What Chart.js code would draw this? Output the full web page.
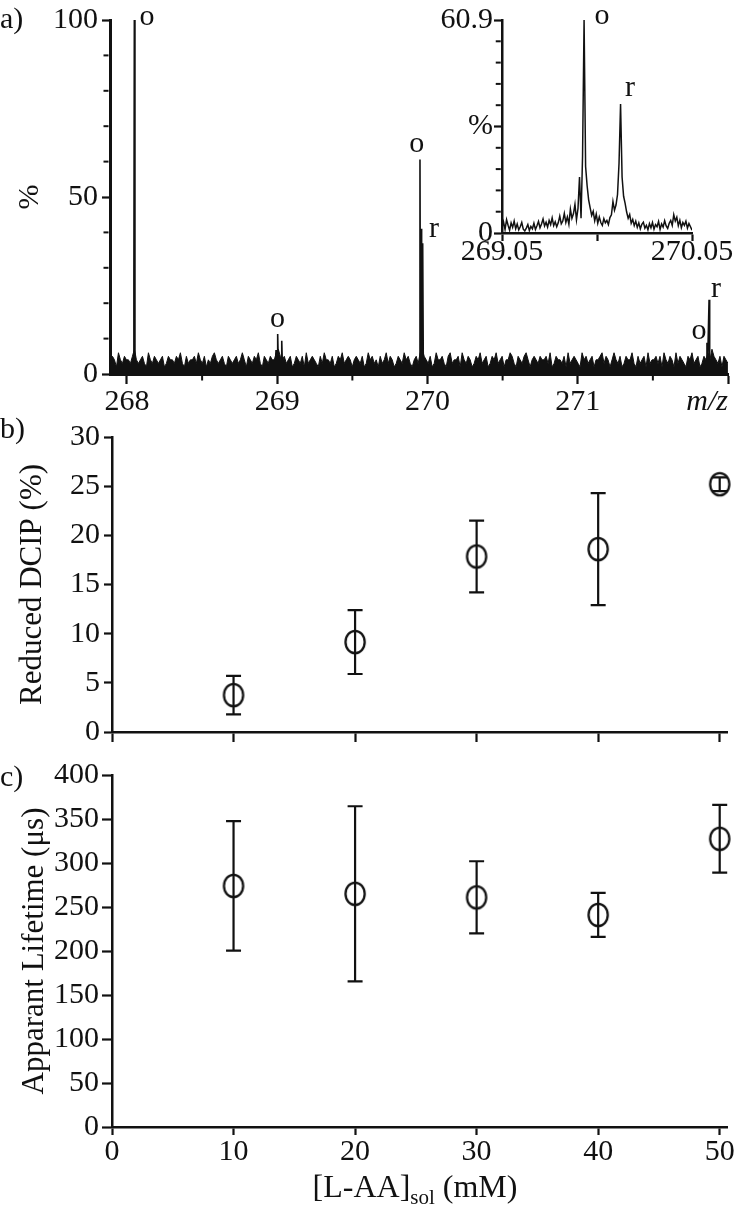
<!DOCTYPE html>
<html>
<head>
<meta charset="utf-8">
<script src="https://cdn.jsdelivr.net/npm/chart.js@4.4.1/dist/chart.umd.min.js"></script>
<style>
html,body{margin:0;padding:0;background:#fff}
#wrap{position:relative;width:739px;height:1216px;overflow:hidden;font-family:'Liberation Serif','Times New Roman',serif;color:#111}
#wrap canvas{position:absolute;left:0;top:0}
.lbl{position:absolute;font-size:30px;line-height:30px;white-space:nowrap}
</style>
</head>
<body>
<div id="wrap">
  <canvas id="cMain" width="739" height="1216"></canvas>
  <canvas id="cInset" width="739" height="1216"></canvas>
  <canvas id="cDcip" width="739" height="1216"></canvas>
  <canvas id="cLife" width="739" height="1216"></canvas>
  <div class="lbl" style="left:0;top:3px">a)</div>
  <div class="lbl" style="left:0;top:413px">b)</div>
  <div class="lbl" style="left:0;top:761px">c)</div>
  <div class="lbl" style="left:0;width:830px;text-align:center;top:1170px;font-size:32px;line-height:32px">[L-AA]<sub style="font-size:21px;line-height:0;vertical-align:-7px">sol</sub> (mM)</div>
</div>
<script>
// a) mass spectrum, b) reduced DCIP, c) apparent lifetime

var FONT = "'Liberation Serif','Times New Roman',serif";
var INK = '#111';

// --- panel a: full spectrum ---
var mzTicks = [268, 269, 270, 271, 272];
var mzMinor = [268.5, 269.5, 270.5, 271.5];
var pctTicks = [0, 50, 100];
var pctMinor = [10, 20, 30, 40, 60, 70, 80, 90];
var noiseStart = 267.89, noiseStep = 0.0133;
var noisePct = [
  3,5,4,2,6,4,3,5,4,4,3,5,7,4,3,4,5,3,2,6,4,3,5,4,3,4,5,2,3,5,4,
  4,3,5,4,6,3,2,5,3,4,4,5,3,6,4,3,5,2,4,3,5,6,4,3,4,5,3,2,5,4,3,
  4,5,3,4,6,4,2,5,4,3,5,4,6,3,2,5,4,3,5,4,4,6,7,5,4,5,3,4,5,2,3,
  5,4,3,5,2,6,3,4,5,4,3,2,5,3,6,4,4,3,5,2,3,5,4,6,3,4,5,4,2,4,5,
  4,3,5,2,3,6,4,5,3,4,2,5,3,4,6,3,5,4,2,3,5,4,3,6,4,5,3,2,4,5,3,
  6,7,5,4,3,5,2,3,6,4,4,5,3,2,5,6,3,4,4,5,2,6,4,3,5,4,2,3,5,4,6,
  3,4,5,2,3,5,4,6,3,4,5,2,4,4,6,5,3,2,5,4,3,5,6,4,2,4,5,4,3,5,4,
  4,5,3,6,2,3,5,4,4,3,5,2,6,3,4,5,4,3,2,6,4,5,3,4,5,2,4,4,5,6,3,
  5,4,2,4,6,4,3,5,2,3,5,4,4,6,3,2,5,3,4,5,2,6,3,4,4,5,3,5,2,6,4,
  3,5,4,2,6,3,5,4,3,2,5,4,6,3,4,5,2,3,5,4,6,4,7,5,4,3,5,2,5,4,3
];
// peaks, null = gap between clusters
var peakMz  = [268.043,268.046,268.049,268.053, 268.5, 268.988,268.992,268.996,269.0,269.003,269.007,269.026,269.030,269.034, 269.5, 269.945,269.950,269.953,269.957,269.961,269.968,269.972, 271.0, 271.855,271.860,271.865,271.874,271.878];
var peakPct = [4,27,100,4, null, 3,6.8,3,3,11.3,3,3,9.4,3, null, 4,60.6,6,41,6,36.9,4, null, 3,8.8,4,21,3];
var markMz  = [268.133, 269.002, 269.928, 270.043, 271.807, 271.92];
var markPct = [100.8, 15.4, 64.8, 40.8, 12.1, 24.0];
var markText = ['o', 'o', 'o', 'r', 'o', 'r'];

// --- panel a inset ---
var insetTicksX = [269.05, 269.55, 270.05];
var insetLabelsX = ['269.05', '', '270.05'];
var insetTicksY = [0, 30.45, 60.9];
var insetLabelsY = ['0', '%', '60.9'];
var insetMinorY = [6.09, 12.18, 18.27, 24.36, 36.54, 42.63, 48.72, 54.81];
var insetStart = 269.05, insetStep = 0.008;
var insetPct = [
  1.5,3.2,1.0,3.8,2.2,0.8,2.9,1.6,3.4,1.2,
  2.6,0.9,1.8,3.0,1.1,0.6,1.4,2.4,0.7,1.9,
  1.2,2.8,1.0,2.1,3.3,1.5,2.6,4.0,2.0,3.1,
  1.7,3.6,2.4,4.3,2.1,3.2,1.8,2.9,4.8,2.6,
  3.4,5.6,3.0,4.6,2.5,6.8,4.2,5.5,8.2,3.8,
  7.0,16.0,4.2,22.0,60.9,19.0,13.5,9.5,7.2,5.0,
  6.2,3.5,5.4,2.8,4.6,3.0,2.2,4.1,2.9,3.6,
  2.4,4.4,5.2,9.0,6.5,8.0,11.0,20.0,36.9,16.0,10.5,8.5,6.0,
  4.2,5.3,2.8,3.9,2.1,3.4,1.6,2.9,1.2,2.5,
  3.1,1.4,2.2,0.9,2.7,1.5,3.0,1.1,2.4,1.8,
  3.3,1.0,2.6,1.7,3.5,2.0,1.3,2.8,3.6,2.2,
  5.2,3.4,4.5,2.1,3.6,1.5,3.0,
  2.2,3.4,1.4,2.7,1.8,0.8
];
var insetMarkMz = [269.576, 269.724];
var insetMarkPct = [62.0, 41.3];
var insetMarkText = ['o', 'r'];

// --- panels b and c ---
var conc = [10, 20, 30, 40, 50];
var concTicks = [0, 10, 20, 30, 40, 50];
var dcipTicks = [0, 5, 10, 15, 20, 25, 30];
var dcipMean = [3.75, 9.15, 17.85, 18.6, 25.2];
var dcipErr  = [1.95, 3.25, 3.65, 5.7, 0.7];
var lifeTicks = [0, 50, 100, 150, 200, 250, 300, 350, 400];
var lifeMean = [274, 265, 261, 241, 327.5];
var lifeErr  = [73.5, 99.5, 41, 25, 38.5];

// ---------- helpers ----------
function fixBox(w, h) {
  return function (s) {
    if (w != null) s.width = w;
    if (h != null) s.height = h;
    s.paddingLeft = s.paddingRight = s.paddingTop = s.paddingBottom = 0;
  };
}

function axis(o) {
  return {
    type: 'linear', min: o.min, max: o.max,
    afterBuildTicks: function (s) { s.ticks = o.ticks.map(function (v) { return {value: v}; }); },
    afterFit: fixBox(o.w, o.h),
    border: {display: true, color: INK, width: o.bw || 2.5},
    grid: {display: true, drawOnChartArea: false, drawTicks: true, tickLength: o.tl, tickWidth: 2.2, tickColor: INK},
    ticks: {color: INK, padding: o.pad, autoSkip: false, maxRotation: 0,
      font: {family: FONT, size: 30, lineHeight: 1},
      callback: o.fmt || function (v) { return String(v); }},
    title: o.title || {display: false}
  };
}

function yTitle(text, size, pt) {
  return {display: true, text: text, color: INK, font: {family: FONT, size: size, lineHeight: 1.2}, padding: {top: pt, bottom: 0}};
}

function minorTicks(xv, yv, xLen, yLen, bw) {
  return {
    id: 'minorTicks',
    afterDraw: function (chart) {
      var c = chart.ctx, a = chart.chartArea, sx = chart.scales.x, sy = chart.scales.y;
      c.save(); c.strokeStyle = INK; c.lineWidth = 2;
      xv.forEach(function (v) {
        var px = sx.getPixelForValue(v);
        c.beginPath(); c.moveTo(px, a.bottom + bw / 2); c.lineTo(px, a.bottom + bw / 2 + xLen); c.stroke();
      });
      yv.forEach(function (v) {
        var py = sy.getPixelForValue(v);
        c.beginPath(); c.moveTo(a.left - bw / 2, py); c.lineTo(a.left - bw / 2 - yLen, py); c.stroke();
      });
      c.restore();
    }
  };
}

function marks(xs, ys, ts) {
  return {
    id: 'marks',
    afterDatasetsDraw: function (chart) {
      var c = chart.ctx, sx = chart.scales.x, sy = chart.scales.y;
      c.save(); c.fillStyle = INK; c.font = '30px ' + FONT; c.textAlign = 'center'; c.textBaseline = 'middle';
      ts.forEach(function (t, i) { c.fillText(t, sx.getPixelForValue(xs[i]), sy.getPixelForValue(ys[i])); });
      c.restore();
    }
  };
}

function errorBars(xs, mean, err, cap) {
  return {
    id: 'errorBars',
    afterDatasetsDraw: function (chart) {
      var c = chart.ctx, sx = chart.scales.x, sy = chart.scales.y;
      c.save(); c.strokeStyle = INK; c.lineWidth = 2.2;
      mean.forEach(function (m, i) {
        var px = sx.getPixelForValue(xs[i]);
        var top = sy.getPixelForValue(m + err[i]), bot = sy.getPixelForValue(m - err[i]);
        c.beginPath();
        c.moveTo(px, top); c.lineTo(px, bot);
        c.moveTo(px - cap / 2, top); c.lineTo(px + cap / 2, top);
        c.moveTo(px - cap / 2, bot); c.lineTo(px + cap / 2, bot);
        c.stroke();
      });
      c.restore();
    }
  };
}

// open ellipse marker
function ring() {
  var cv = document.createElement('canvas'); cv.width = 26; cv.height = 28;
  var g = cv.getContext('2d');
  g.strokeStyle = INK; g.lineWidth = 2.3;
  g.beginPath(); g.ellipse(13, 14, 9.6, 11.2, 0, 0, Math.PI * 2); g.stroke();
  return cv;
}

var base = {responsive: false, animation: false, events: [],
  plugins: {legend: {display: false}, tooltip: {enabled: false}}};
function opts(pad, scales) {
  return Object.assign({}, base, {layout: {padding: pad}, scales: scales});
}

// ---------- panel a ----------
new Chart(document.getElementById('cMain'), {
  type: 'line',
  data: {datasets: [
    {data: noisePct.map(function (p, i) { return {x: noiseStart + i * noiseStep, y: p}; }),
     borderColor: INK, borderWidth: 1, backgroundColor: INK, fill: 'origin', pointRadius: 0, tension: 0},
    {data: peakMz.map(function (m, i) { return {x: m, y: peakPct[i]}; }),
     borderColor: INK, borderWidth: 1.6, pointRadius: 0, fill: false, spanGaps: false, tension: 0}
  ]},
  options: opts({left: 0, top: 20, right: 11, bottom: 802}, {
    x: axis({min: 267.887, max: 272, ticks: mzTicks, h: 40, tl: 10, pad: 3, bw: 3,
      fmt: function (v) { return v === 272 ? '' : String(v); },
      title: {display: true, text: 'm/z', align: 'end', color: INK,
        font: {family: FONT, size: 30, style: 'italic', lineHeight: 1}, padding: {top: 0, bottom: -3}}}),
    y: axis({min: 0, max: 100, ticks: pctTicks, w: 110, tl: 8, pad: 4, bw: 3, title: yTitle('%', 30, 12)})
  }),
  plugins: [minorTicks(mzMinor, pctMinor, 5, 5, 3), marks(markMz, markPct, markText)]
});

// inset
new Chart(document.getElementById('cInset'), {
  type: 'line',
  data: {datasets: [
    {data: insetPct.map(function (p, i) { return {x: insetStart + i * insetStep, y: p}; }),
     borderColor: INK, borderWidth: 1.5, pointRadius: 0, fill: false, tension: 0}
  ]},
  options: opts({left: 402, top: 20, right: 47, bottom: 943}, {
    x: axis({min: 269.05, max: 270.05, ticks: insetTicksX, h: 40, tl: 8, pad: -4, bw: 2.5,
      fmt: function (v) { return insetLabelsX[insetTicksX.indexOf(v)]; }}),
    y: axis({min: 0, max: 60.9, ticks: insetTicksY, w: 100, tl: 8, pad: 1, bw: 2.5,
      fmt: function (v) { return insetLabelsY[insetTicksY.indexOf(v)]; }})
  }),
  plugins: [minorTicks([], insetMinorY, 0, 5, 2.5), marks(insetMarkMz, insetMarkPct, insetMarkText)]
});

// ---------- panel b ----------
var ringImg = ring();
new Chart(document.getElementById('cDcip'), {
  type: 'scatter',
  data: {datasets: [{data: conc.map(function (c, i) { return {x: c, y: dcipMean[i]}; }),
    pointStyle: ringImg, pointRadius: 10, borderColor: INK, clip: false}]},
  options: opts({left: 0, top: 437, right: 12, bottom: 464}, {
    x: axis({min: 0, max: 50.6, ticks: concTicks, h: 20, tl: 10, pad: 0, fmt: function () { return ''; }}),
    y: axis({min: 0, max: 30, ticks: dcipTicks, w: 112, tl: 8, pad: 4, title: yTitle('Reduced DCIP (%)', 31, 14)})
  }),
  plugins: [errorBars(conc, dcipMean, dcipErr, 15)]
});

// ---------- panel c ----------
new Chart(document.getElementById('cLife'), {
  type: 'scatter',
  data: {datasets: [{data: conc.map(function (c, i) { return {x: c, y: lifeMean[i]}; }),
    pointStyle: ringImg, pointRadius: 10, borderColor: INK, clip: false}]},
  options: opts({left: 0, top: 775, right: 12, bottom: 9}, {
    x: axis({min: 0, max: 50.6, ticks: concTicks, h: 80, tl: 8, pad: 2}),
    y: axis({min: 0, max: 400, ticks: lifeTicks, w: 112, tl: 10, pad: 3, title: yTitle('Apparant Lifetime (\u03bcs)', 31, 16)})
  }),
  plugins: [errorBars(conc, lifeMean, lifeErr, 15)]
});
</script>
</body>
</html>
